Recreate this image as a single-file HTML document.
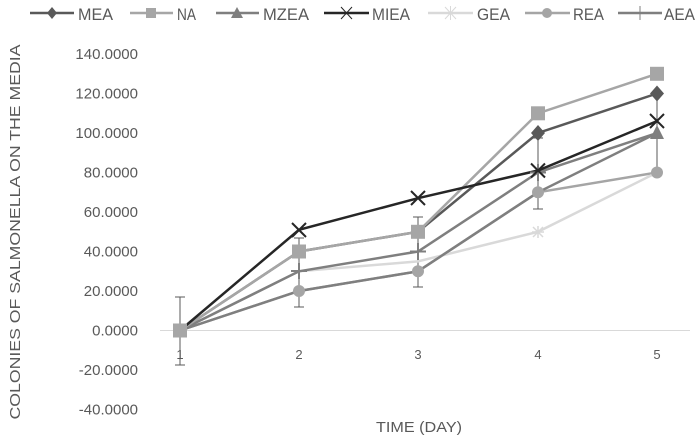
<!DOCTYPE html><html><head><style>body{margin:0;background:#fff}svg{font-family:"Liberation Sans",sans-serif}</style></head><body>
<svg width="700" height="439" viewBox="0 0 700 439">
<line x1="160" y1="330.5" x2="690" y2="330.5" stroke="#d9d9d9"/>
<g font-size="15" fill="#595959" text-anchor="end">
<text x="138" y="59">140.0000</text><text x="138" y="98.5">120.0000</text><text x="138" y="138">100.0000</text><text x="138" y="177.5">80.0000</text><text x="138" y="217">60.0000</text><text x="138" y="256.5">40.0000</text><text x="138" y="296">20.0000</text><text x="138" y="335.5">0.0000</text><text x="138" y="375">-20.0000</text><text x="138" y="414.5">-40.0000</text>
</g>
<g font-size="13" fill="#595959" text-anchor="middle">
<text x="180" y="359">1</text><text x="299" y="359">2</text><text x="418" y="359">3</text><text x="538" y="359">4</text><text x="657" y="359">5</text>
<text x="419" y="432" font-size="15" textLength="86" lengthAdjust="spacingAndGlyphs">TIME (DAY)</text>
<text transform="translate(20,232) rotate(-90)" font-size="15" textLength="375" lengthAdjust="spacingAndGlyphs">COLONIES OF SALMONELLA ON THE MEDIA</text>
</g>
<g stroke="#595959" stroke-width="1" fill="none">
<path d="M180 297V365M175 297H185M175 365H185"/>
<path d="M299 238V307M294 238H304M294 307H304"/>
<path d="M418 217V287M413 217H423M413 287H423"/>
<path d="M538 138V209M533 138H543M533 209H543"/>
<path d="M657 97V172"/>
</g>
<g fill="none" stroke-width="2.5">
<polyline stroke="#a5a5a5" points="180,330.5 299,291 418,271.3 538,192.3 657,172.5"/>
<polyline stroke="#d9d9d9" points="180,330.5 299,271.3 418,261.4 538,231.8 657,172.5"/>
<polyline stroke="#7f7f7f" points="180,330.5 299,291 418,271.3 538,192.3 657,133"/>
<polyline stroke="#7f7f7f" points="180,330.5 299,271.3 418,251.5 538,172.5 657,133"/>
<polyline stroke="#595959" points="180,330.5 299,251.5 418,231.8 538,133 657,93.5"/>
<polyline stroke="#a6a6a6" points="180,330.5 299,251.5 418,231.8 538,113.3 657,73.8"/>
<polyline stroke="#262626" points="180,330.5 299,229.8 418,198.2 538,170.5 657,121.1"/>
</g>
<g fill="#a5a5a5"><circle cx="299" cy="291" r="6"/><circle cx="418" cy="271.3" r="6"/><circle cx="538" cy="192.3" r="6"/><circle cx="657" cy="172.5" r="6"/></g>
<g stroke="#d9d9d9" stroke-width="1.5"><path d="M532 232H544M538 226V238M533 227L543 237M543 227L533 237"/><path d="M293 271H305M299 265V277"/></g>
<polygon points="657,125 664,139 650,139" fill="#7f7f7f"/>
<g stroke="#7f7f7f" stroke-width="2"><path d="M291 271H307M299 263V279M410 251.5H426M418 243V260M530 172.5H546M538 164V181"/></g>
<g fill="#595959"><polygon points="538,125 545,133 538,141 531,133"/><polygon points="657,85.5 664,93.5 657,101.5 650,93.5"/></g>
<g fill="#a6a6a6"><rect x="292" y="244.5" width="14" height="14"/><rect x="411" y="224.8" width="14" height="14"/><rect x="531" y="106.3" width="14" height="14"/><rect x="650" y="66.8" width="14" height="14"/><rect x="173" y="323.5" width="14" height="14"/></g>
<g stroke="#262626" stroke-width="2"><path d="M292 223L306 237M306 223L292 237M411 191L425 205M425 191L411 205M531 163.5L545 177.5M545 163.5L531 177.5M650 114L664 128M664 114L650 128"/></g>
<g font-size="17" fill="#595959" lengthAdjust="spacingAndGlyphs">
<line x1="30" y1="13" x2="74" y2="13" stroke="#595959" stroke-width="2.5"/><polygon points="52,7 57,13 52,19 47,13" fill="#595959"/><text x="78" y="20" textLength="35" lengthAdjust="spacingAndGlyphs">MEA</text>
<line x1="130" y1="13" x2="173" y2="13" stroke="#a6a6a6" stroke-width="2.5"/><rect x="146" y="8" width="10" height="10" fill="#a6a6a6"/><text x="177" y="20" textLength="19" lengthAdjust="spacingAndGlyphs">NA</text>
<line x1="216" y1="13" x2="259" y2="13" stroke="#7f7f7f" stroke-width="2.5"/><polygon points="237,7 243,18 231,18" fill="#7f7f7f"/><text x="263" y="20" textLength="46" lengthAdjust="spacingAndGlyphs">MZEA</text>
<line x1="324" y1="13" x2="369" y2="13" stroke="#262626" stroke-width="2.5"/><path d="M341 7L352 19M352 7L341 19" stroke="#262626"/><text x="372" y="20" textLength="38" lengthAdjust="spacingAndGlyphs">MIEA</text>
<line x1="428" y1="13" x2="473" y2="13" stroke="#d9d9d9" stroke-width="2.5"/><path d="M445 7L456 19M456 7L445 19M450.5 6V20" stroke="#d9d9d9"/><text x="477" y="20" textLength="33" lengthAdjust="spacingAndGlyphs">GEA</text>
<line x1="525" y1="13" x2="570" y2="13" stroke="#a5a5a5" stroke-width="2.5"/><circle cx="547" cy="13" r="5" fill="#a5a5a5"/><text x="573" y="20" textLength="31" lengthAdjust="spacingAndGlyphs">REA</text>
<line x1="618" y1="13" x2="662" y2="13" stroke="#7f7f7f" stroke-width="2.5"/><path d="M640 6V20" stroke="#7f7f7f"/><text x="664" y="20" textLength="31" lengthAdjust="spacingAndGlyphs">AEA</text>
</g>
</svg></body></html>
